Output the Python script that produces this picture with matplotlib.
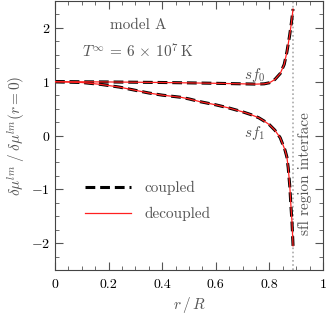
import numpy as np
import matplotlib
matplotlib.use("Agg")
import matplotlib.pyplot as plt
from matplotlib.ticker import MultipleLocator

plt.rcParams['font.family'] = 'serif'
plt.rcParams['font.serif'] = ['cmr10', 'DejaVu Serif']
plt.rcParams['mathtext.fontset'] = 'cm'
plt.rcParams['axes.formatter.use_mathtext'] = True
plt.rcParams['axes.unicode_minus'] = True

# data
r_sf0 = [0.0, 0.1, 0.2, 0.3, 0.4, 0.5, 0.6, 0.7, 0.75, 0.78, 0.8, 0.82, 0.84,
         0.855, 0.865, 0.875, 0.882, 0.888]
sf0 = [1.0, 0.998, 0.995, 0.99, 0.985, 0.978, 0.97, 0.96, 0.955, 0.96, 0.98,
       1.04, 1.15, 1.32, 1.55, 1.85, 2.1, 2.35]
r_sf1 = [0.0, 0.1, 0.17, 0.24, 0.3, 0.35, 0.4, 0.47, 0.5, 0.54, 0.6, 0.65,
         0.7, 0.73, 0.76, 0.78, 0.8, 0.82, 0.84, 0.858, 0.865, 0.87, 0.876,
         0.88, 0.884, 0.888]
sf1 = [1.0, 0.985, 0.95, 0.9, 0.84, 0.79, 0.75, 0.71, 0.68, 0.63, 0.57, 0.51,
       0.44, 0.39, 0.33, 0.27, 0.2, 0.1, -0.04, -0.27, -0.4, -0.6, -0.95,
       -1.3, -1.6, -2.05]
r_interface = 0.888

grey = '#555555'

fig = plt.figure(figsize=(3.27, 3.17), dpi=100)
ax = fig.add_axes([0.168, 0.148, 0.82, 0.849])

ax.axvline(r_interface, color='#aaaaaa', ls=(0, (1, 1.5)), lw=1.2, zorder=1)

for rr, yy in ((r_sf0, sf0), (r_sf1, sf1)):
    ax.plot(rr, yy, color='black', lw=2.2, ls=(0, (3.2, 1.6)), zorder=2,
            label='coupled' if yy is sf0 else None)
    ax.plot(rr, yy, color='#ff2020', lw=0.9, zorder=3,
            label='decoupled' if yy is sf0 else None)

def xfmt(v, p):
    v = round(v, 2)
    if v == 0:
        return '0'
    if v == 1:
        return '1'
    return f'{v:.1f}'

ax.set_xlim(0, 1)
ax.set_ylim(-2.5, 2.5)
ax.xaxis.set_major_locator(MultipleLocator(0.2))
ax.xaxis.set_minor_locator(MultipleLocator(0.05))
ax.yaxis.set_major_locator(MultipleLocator(1))
ax.yaxis.set_minor_locator(MultipleLocator(0.25))
ax.xaxis.set_major_formatter(plt.FuncFormatter(xfmt))
ax.tick_params(which='both', direction='in', top=True, right=True, labelsize=10,
               color='#555555')
ax.tick_params(which='major', length=6)
ax.tick_params(which='minor', length=3)
ax.tick_params(axis='x', pad=6)
for s in ax.spines.values():
    s.set_color('#444444')

ax.set_xlabel(r'$r\,/\,R$', fontsize=11, color=grey, labelpad=3)
ax.set_ylabel(r'$\delta\mu^{lm}\;/\;\delta\mu^{lm}(r=0)$', fontsize=11, color=grey, labelpad=2)

ax.text(0.31, 0.91, 'model A', transform=ax.transAxes, ha='center', va='center',
        fontsize=11, color=grey)
ax.text(0.31, 0.81, r'$T^{\infty}\,=\,6\,\times\,10^{7}\,\mathrm{K}$', transform=ax.transAxes,
        ha='center', va='center', fontsize=11, color=grey)
ax.text(0.745, 1.12, r'$sf_0$', ha='center', va='center', fontsize=11, color=grey)
ax.text(0.745, 0.05, r'$sf_1$', ha='center', va='center', fontsize=11, color=grey)
ax.text(0.932, -0.7, 'sfl region interface', rotation=90, ha='center', va='center',
        fontsize=11, color=grey)

handles, labels = ax.get_legend_handles_labels()
leg = ax.legend(handles, labels, loc='lower left', bbox_to_anchor=(0.06, 0.13),
                frameon=False, fontsize=11, handlelength=3.0, labelspacing=0.8,
                handletextpad=0.9, labelcolor=grey)

fig.savefig('out.png', dpi=100)
